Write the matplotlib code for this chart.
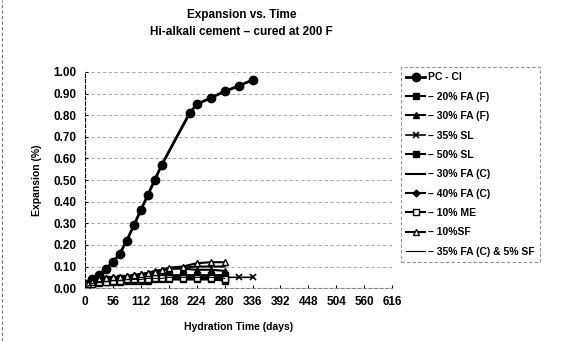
import matplotlib.pyplot as plt
from matplotlib.lines import Line2D

plt.rcParams['font.family'] = ['Liberation Sans', 'DejaVu Sans']
plt.rcParams['font.weight'] = 'bold'
plt.rcParams['axes.labelweight'] = 'bold'

# PC - CI series
pc_days = [0, 7, 14, 28, 42, 56, 70, 84, 98, 112, 126, 140, 154, 210, 224, 252, 280, 308, 336]
pc_vals = [0.0, 0.02, 0.04, 0.06, 0.09, 0.12, 0.16, 0.22, 0.29, 0.36, 0.43, 0.50, 0.57,
           0.81, 0.85, 0.88, 0.91, 0.935, 0.963]

# low-expansion mixes
low_days = [0, 7, 14, 28, 42, 56, 70, 84, 98, 112, 126, 140, 154, 168, 196, 224, 252, 280, 308, 336]
fa20f = [0.0, 0.02, 0.03, 0.035, 0.04, 0.04, 0.045, 0.045, 0.05, 0.05, 0.05, 0.055, 0.055,
         0.06, 0.06, 0.06, 0.06, 0.06]
fa30f = [0.0, 0.02, 0.03, 0.04, 0.045, 0.05, 0.05, 0.055, 0.06, 0.065, 0.07, 0.08, 0.085,
         0.09, 0.09, 0.085, 0.085, 0.08]
sl35 = [0.0, 0.01, 0.02, 0.03, 0.035, 0.035, 0.04, 0.04, 0.04, 0.045, 0.045, 0.045, 0.05,
        0.05, 0.05, 0.05, 0.05, 0.05, 0.05, 0.05]
sl50 = [0.0, 0.01, 0.02, 0.025, 0.03, 0.03, 0.03, 0.035, 0.035, 0.035, 0.035, 0.04, 0.04,
        0.04, 0.04, 0.04, 0.04, 0.035]
fa30c = [0.0, 0.02, 0.03, 0.04, 0.045, 0.05, 0.05, 0.05, 0.055, 0.06, 0.065, 0.07, 0.08,
         0.09, 0.095, 0.10, 0.10, 0.10]
fa40c = [0.0, 0.015, 0.025, 0.03, 0.035, 0.04, 0.04, 0.045, 0.045, 0.045, 0.05, 0.05, 0.05,
         0.05, 0.05, 0.05, 0.05, 0.05]
me10 = [0.0, 0.015, 0.02, 0.03, 0.03, 0.035, 0.035, 0.04, 0.04, 0.04, 0.04, 0.045, 0.045,
        0.045, 0.045, 0.045, 0.045, 0.04]
sf10 = [0.0, 0.02, 0.03, 0.04, 0.045, 0.05, 0.05, 0.055, 0.06, 0.065, 0.07, 0.075, 0.085,
        0.095, 0.10, 0.115, 0.12, 0.12]
fac_sf = [0.0, 0.01, 0.02, 0.03, 0.03, 0.035, 0.035, 0.04, 0.04, 0.04, 0.045, 0.045, 0.045,
          0.05, 0.05, 0.05, 0.05, 0.045]

labels = ['PC - CI', '\u2013 20% FA (F)', '\u2013 30% FA (F)', '\u2013 35% SL', '\u2013 50% SL',
          '\u2013 30% FA (C)', '\u2013 40% FA (C)', '\u2013 10% ME', '\u2013 10%SF',
          '\u2013 35% FA (C) & 5% SF']

fig = plt.figure(figsize=(5.62, 3.41), dpi=100)
ax = fig.add_axes([0.151, 0.155, 0.547, 0.634])

ax.plot(pc_days, pc_vals, color='black', lw=2, marker='o', ms=6, label=labels[0])
ax.plot(low_days[:18], fa20f, color='black', lw=1.5, marker='s', ms=4, label=labels[1])
ax.plot(low_days[:18], fa30f, color='black', lw=1.5, marker='^', ms=4, label=labels[2])
ax.plot(low_days, sl35, color='black', lw=1.2, marker='x', ms=4, mew=1.2, label=labels[3])
ax.plot(low_days[:18], sl50, color='black', lw=1.5, marker='s', ms=4.5, label=labels[4])
ax.plot(low_days[:18], fa30c, color='black', lw=1.5, label=labels[5])
ax.plot(low_days[:18], fa40c, color='black', lw=1.5, marker='D', ms=3.5, label=labels[6])
ax.plot(low_days[:18], me10, color='black', lw=1.5, marker='s', ms=4, mfc='white', label=labels[7])
ax.plot(low_days[:18], sf10, color='black', lw=1.5, marker='^', ms=5, mfc='white', label=labels[8])
ax.plot(low_days[:18], fac_sf, color='black', lw=0.8, label=labels[9])

ax.set_xlim(0, 616)
ax.set_ylim(0, 1.0)
ax.set_xticks(range(0, 617, 56))
ax.set_yticks([i / 10 for i in range(11)])
ax.set_yticklabels(['%.2f' % (i / 10) for i in range(11)])
ax.tick_params(labelsize=8.5, length=2, direction='in', pad=6)
for t in ax.get_xticklabels() + ax.get_yticklabels():
    t.set_fontweight('bold')
ax.grid(axis='y', color='#999999', ls=(0, (4, 3)), lw=0.6)
for s in ['top', 'right']:
    ax.spines[s].set_visible(False)
ax.spines['left'].set_linestyle((0, (3, 2)))
ax.spines['bottom'].set_color('#888888')
ax.spines['bottom'].set_linestyle((0, (3, 2)))

ax.set_xlabel('Hydration Time (days)', fontsize=7.5, fontweight='bold', labelpad=10)
ax.set_ylabel('Expansion (%)', fontsize=7.5, fontweight='bold', labelpad=8)

fig.text(0.43, 0.955, 'Expansion vs. Time', ha='center', va='center', fontsize=8.5, fontweight='bold')
fig.text(0.43, 0.905, 'Hi-alkali cement \u2013 cured at 200 F', ha='center', va='center',
         fontsize=8.5, fontweight='bold')

leg = fig.legend(loc='upper left', bbox_to_anchor=(0.7135, 0.803),
                 prop={'size': 7.5, 'weight': 'bold'},
                 frameon=True, fancybox=False, handlelength=1.8, handletextpad=0.3,
                 labelspacing=0.9, borderpad=0.5, borderaxespad=0)
leg.get_frame().set_edgecolor('#777777')
leg.get_frame().set_linestyle((0, (3, 2)))
leg.get_frame().set_linewidth(0.8)

# outer border hint on the left
fig.add_artist(Line2D([0.004, 0.004], [0.0, 1.0], color='#777777', lw=0.8, ls=(0, (3, 2))))

plt.savefig('out.png', dpi=100)
